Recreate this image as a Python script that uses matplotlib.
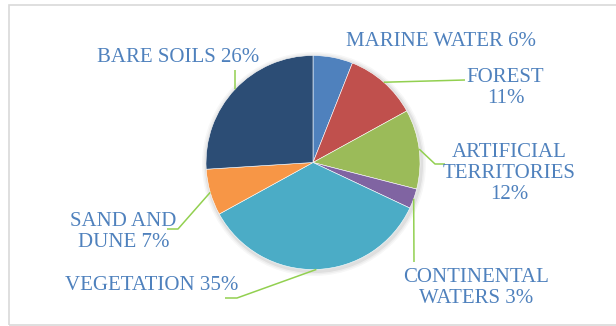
import numpy as np
import matplotlib.pyplot as plt
from matplotlib.patches import Circle, Rectangle

# land cover shares, clockwise from 12 o'clock
names = ["MARINE WATER", "FOREST", "ARTIFICIAL\nTERRITORIES", "CONTINENTAL\nWATERS",
         "VEGETATION", "SAND AND\nDUNE", "BARE SOILS"]
shares = [6, 11, 12, 3, 35, 7, 26]
pct_sep = [" ", "\n", "\n", " ", " ", " ", " "]
colors = ["#4F81BD", "#C0504D", "#9BBB59", "#8064A2", "#4BACC6", "#F79646", "#2C4D75"]

W, H = 616, 326
cx, cy, R = 313, H - 162.5, 107

# label centres and leader paths (pixel coords, y from top)
label_xy = [(441.5, 42), (505.5, 88), (509, 173.5), (476, 288), (152, 285.5), (123.5, 232), (178.5, 57.5)]
leader_pts = [[], [(465, 80)], [(435, 164), (445, 164)], [(414, 262)],
              [(237, 298), (225, 298)], [(178, 229), (167, 229)], [(235, 70)]]

fig = plt.figure(figsize=(W / 100, H / 100), dpi=100)
ax = fig.add_axes([0, 0, 1, 1])

# chart area border
ax.add_patch(Rectangle((9, H - 324.5), 620, 319.5, fill=False, edgecolor="#D9D9D9", lw=1.2, zorder=0))

# soft shadow under the pie
for k, a in [(5, 0.03), (3.5, 0.04), (2, 0.06)]:
    ax.add_patch(Circle((cx + 1, cy - 1.5), R + k, color="black", alpha=a, lw=0, zorder=1))

wedges, _ = ax.pie(shares, colors=colors, startangle=90, counterclock=False,
                   center=(cx, cy), radius=R, frame=True,
                   wedgeprops=dict(edgecolor="white", linewidth=0.4))
for w in wedges:
    w.set_zorder(2)
ax.set_xlim(0, W)
ax.set_ylim(0, H)
ax.set_aspect('equal')
ax.axis('off')

total = sum(shares)
cum = np.cumsum([0] + shares[:-1])
for i, (name, v) in enumerate(zip(names, shares)):
    mid = np.deg2rad(90 - (cum[i] + v / 2) / total * 360)
    anchor = (cx + R * np.cos(mid), cy + R * np.sin(mid))
    if leader_pts[i]:
        xs = [anchor[0]] + [p[0] for p in leader_pts[i]]
        ys = [anchor[1]] + [H - p[1] for p in leader_pts[i]]
        ax.plot(xs, ys, color="#92D050", lw=1.1, zorder=3, solid_capstyle='butt')
    lx, ly = label_xy[i]
    ax.text(lx, H - ly, f"{name}{pct_sep[i]}{v}%", ha='center', va='center',
            multialignment='center', family="Liberation Serif", fontsize=15,
            color="#4F81BD", linespacing=1.12, zorder=4)

fig.savefig("out.png", dpi=100)
